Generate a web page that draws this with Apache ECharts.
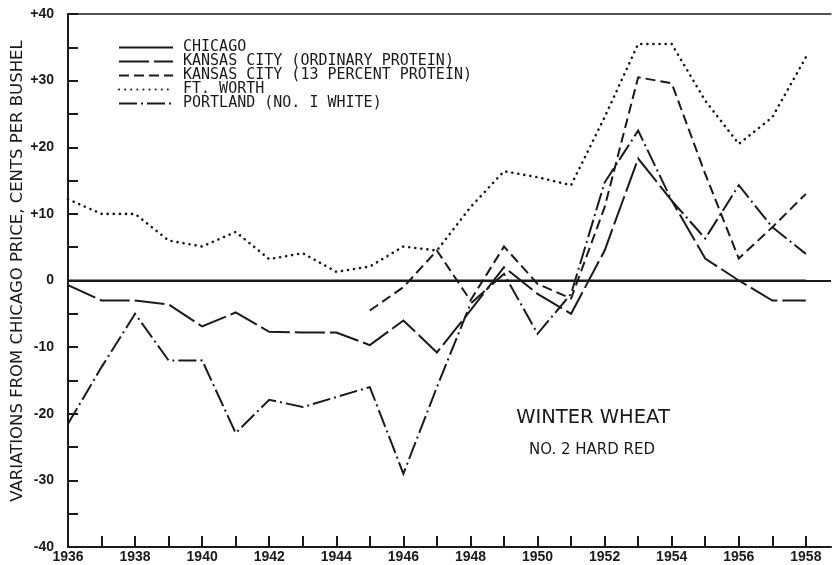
<!DOCTYPE html>
<html>
<head>
<meta charset="utf-8">
<script src="https://cdn.jsdelivr.net/npm/echarts@6/dist/echarts.min.js"></script>
<style>
  html, body { margin: 0; padding: 0; background: #fff; }
  #chart { width: 832px; height: 565px; }
</style>
</head>
<body>
<div id="chart"></div>
<script>
// years on the x axis
const years = [1936, 1937, 1938, 1939, 1940, 1941, 1942, 1943, 1944, 1945, 1946, 1947,
  1948, 1949, 1950, 1951, 1952, 1953, 1954, 1955, 1956, 1957, 1958];
// Kansas City 13 percent series only starts in 1945
const years13 = [1945, 1946, 1947, 1948, 1949, 1950, 1951, 1952, 1953, 1954, 1955, 1956, 1957, 1958];

// cents per bushel, variation from Chicago price
const chicago = [0, 0, 0, 0, 0, 0, 0, 0, 0, 0, 0, 0, 0, 0, 0, 0, 0, 0, 0, 0, 0, 0, 0];
const kcOrdinary = [-0.7, -3, -3, -3.6, -6.9, -4.8, -7.7, -7.8, -7.8, -9.7, -6, -10.8,
  -4.5, 2, -2, -5, 4.5, 18.3, 12, 3.3, 0, -3, -3];
const kc13 = [-4.5, -1, 4.5, -3, 5.1, -0.5, -2.7, 11, 30.5, 29.6, 16, 3.3, 8, 13];
const ftWorth = [12.2, 10, 10, 6, 5.1, 7.3, 3.2, 4.1, 1.3, 2.1, 5.1, 4.5,
  11, 16.4, 15.5, 14.3, 24.5, 35.5, 35.5, 27, 20.5, 24.5, 33.5];
const portland = [-21.5, -13, -5, -12, -12, -22.9, -17.9, -19, -17.5, -16, -29, -16,
  -3.5, 1, -8, -2, 14.7, 22.5, 12, 6.3, 14.3, 8, 4];

const seriesNames = ['CHICAGO', 'KANSAS CITY (ORDINARY PROTEIN)', 'KANSAS CITY (13 PERCENT PROTEIN)',
  'FT. WORTH', 'PORTLAND (NO. I WHITE)'];

const font = '"Liberation Sans", Arial, sans-serif';
const letterFont = '"DejaVu Sans", Verdana, sans-serif';
// legend lettering is evenly spaced, a mono face keeps its width
const legendFont = '"DejaVu Sans Mono", "Liberation Mono", monospace';
const ink = '#1a1a1a';

const pairs = (xs, ys) => xs.map((x, i) => [x, ys[i]]);

const myChart = echarts.init(document.getElementById('chart'));

function lineSeries(name, data, type, extra) {
  return Object.assign({
    name: name,
    type: 'line',
    data: data,
    symbol: 'none',
    silent: true,
    lineStyle: { color: ink, width: 2, type: type, cap: 'butt', join: 'miter' },
    itemStyle: { color: ink },
    z: 3
  }, extra || {});
}

const option = {
  animation: false,
  backgroundColor: '#fff',
  textStyle: { fontFamily: font, color: ink },
  grid: { left: 68, right: 1, top: 14, bottom: 18 },
  legend: {
    left: 113,
    top: 35,
    orient: 'vertical',
    itemWidth: 54,
    itemHeight: 12,
    itemGap: -1,
    selectedMode: false,
    data: seriesNames,
    // hide the marker circle, keep only the line sample
    itemStyle: { opacity: 0, borderWidth: 0 },
    textStyle: { fontFamily: legendFont, fontSize: 15, color: ink, padding: [0, 0, 0, 5] }
  },
  xAxis: [
    {
      type: 'value',
      min: 1936,
      max: 1958.75,
      interval: 1,
      axisLine: { show: true, onZero: false, lineStyle: { color: ink, width: 2 } },
      axisTick: { show: true, inside: true, length: 11, lineStyle: { color: ink, width: 2 } },
      splitLine: { show: false },
      axisLabel: {
        margin: 3,
        color: ink,
        fontFamily: font,
        fontSize: 14,
        fontWeight: 'bold',
        showMaxLabel: false,
        formatter: v => (Number.isInteger(v) && v % 2 === 0 ? String(v) : '')
      }
    },
    {
      // top border of the frame
      type: 'value',
      position: 'top',
      min: 1936,
      max: 1958.75,
      axisLine: { show: true, onZero: false, lineStyle: { color: ink, width: 1.5 } },
      axisTick: { show: false },
      axisLabel: { show: false },
      splitLine: { show: false }
    }
  ],
  yAxis: {
    type: 'value',
    min: -40,
    max: 40,
    interval: 5,
    axisLine: { show: true, onZero: false, lineStyle: { color: ink, width: 2 } },
    axisTick: { show: true, inside: true, length: 10, lineStyle: { color: ink, width: 2 } },
    splitLine: { show: false },
    axisLabel: {
      margin: 14,
      color: ink,
      fontFamily: font,
      fontSize: 14,
      fontWeight: 'bold',
      formatter: v => (v % 10 !== 0 ? '' : v > 0 ? '+' + v : String(v))
    }
  },
  graphic: [
    {
      type: 'text',
      x: 18,
      y: 271,
      rotation: Math.PI / 2,
      style: {
        text: 'VARIATIONS FROM CHICAGO PRICE, CENTS PER BUSHEL',
        fontFamily: letterFont,
        fontSize: 16.5,
        fill: ink,
        textAlign: 'center',
        textVerticalAlign: 'middle'
      }
    },
    {
      type: 'text',
      x: 593,
      y: 418,
      style: {
        text: 'WINTER WHEAT',
        fontFamily: letterFont,
        fontSize: 19.5,
        fill: ink,
        textAlign: 'center',
        textVerticalAlign: 'middle'
      }
    },
    {
      type: 'text',
      x: 592,
      y: 450,
      style: {
        text: 'NO. 2 HARD RED',
        fontFamily: letterFont,
        fontSize: 15,
        fill: ink,
        textAlign: 'center',
        textVerticalAlign: 'middle'
      }
    }
  ],
  series: [
    lineSeries(seriesNames[0], pairs(years, chicago), 'solid', {
      // zero line runs across the full frame
      markLine: {
        silent: true,
        symbol: 'none',
        label: { show: false },
        lineStyle: { color: ink, width: 2, type: 'solid' },
        data: [{ yAxis: 0 }]
      }
    }),
    lineSeries(seriesNames[1], pairs(years, kcOrdinary), [30, 5]),
    lineSeries(seriesNames[2], pairs(years13, kc13), [10, 5]),
    lineSeries(seriesNames[3], pairs(years, ftWorth), [0.1, 6], {
      lineStyle: { color: ink, width: 2.6, type: [0.1, 6], cap: 'round', join: 'round' }
    }),
    lineSeries(seriesNames[4], pairs(years, portland), [18, 4, 2, 4])
  ]
};

if (option && myChart) {
  myChart.clear();
  myChart.setOption(option, true);
}
</script>
</body>
</html>
